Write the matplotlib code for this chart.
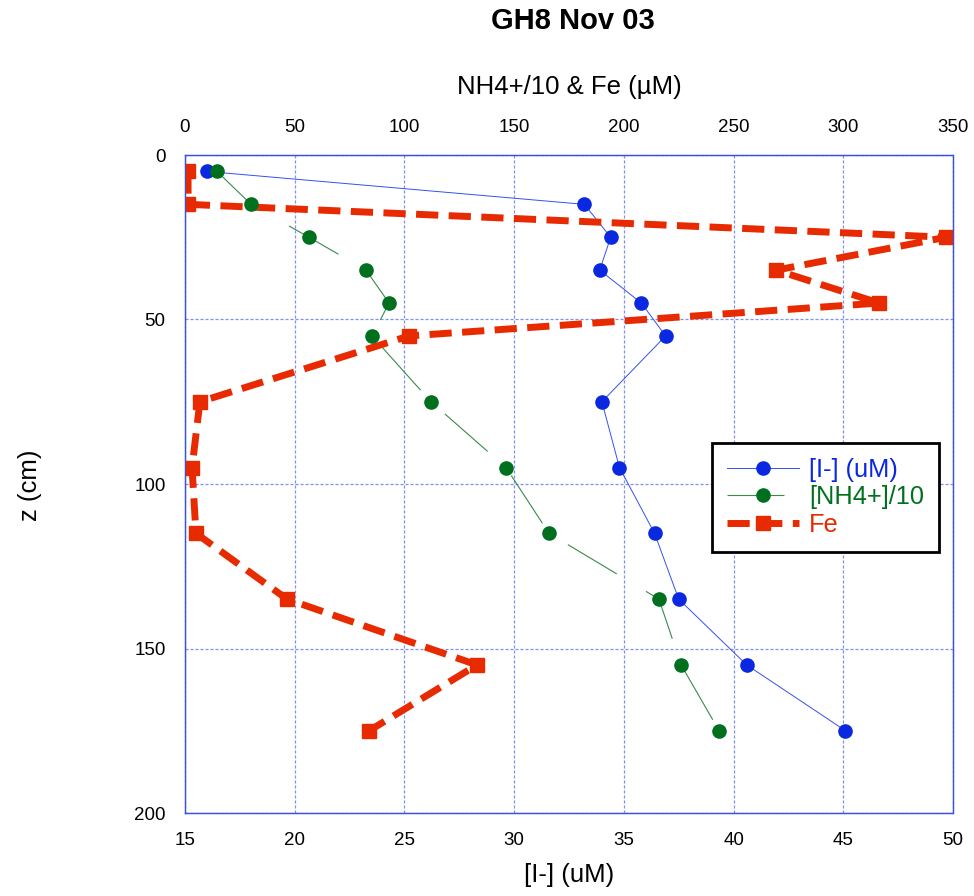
import numpy as np
import matplotlib
matplotlib.use('Agg')
import matplotlib.pyplot as plt

plt.rcParams['font.family'] = ['Liberation Sans', 'DejaVu Sans']
plt.rcParams['lines.scale_dashes'] = False

# core depths (cm)
depth = [5, 15, 25, 35, 45, 55, 75, 95, 115, 135, 155, 175]
# iodide, bottom axis (uM)
iodide = [16.0, 33.2, 34.4, 33.9, 35.8, 36.9, 34.0, 34.8, 36.4, 37.5, 40.6, 45.1]
# ammonium / 10 and iron, top axis (uM)
nh4_10 = [14.6, 30.1, 56.5, 82.5, 93.0, 85.2, 112.1, 146.3, 165.9, 216.0, 226.1, 243.4]
fe = [1.4, 1.4, 346.9, 269.4, 316.3, 102.1, 6.8, 3.2, 5.0, 46.5, 133.1, 83.9]

W, H = 974, 896
fig = plt.figure(figsize=(W / 100, H / 100), dpi=100)
ax = fig.add_axes([185 / W, 1 - 813 / H, (953 - 185) / W, (813 - 155) / H])
ax2 = ax.twiny()

grid_col = '#8090ee'
blue = '#0a28e0'
green = '#00701e'
red = '#e82a00'

ax.set_xlim(15, 50)
ax.set_ylim(200, 0)
ax2.set_xlim(0, 350)
ax.set_xticks(np.arange(15, 51, 5))
ax.set_yticks(np.arange(0, 201, 50))
ax2.set_xticks(np.arange(0, 351, 50))
ax.grid(True, color=grid_col, linestyle=(0, (2.2, 1.4)), linewidth=0.9)
ax.set_axisbelow(True)

for a in (ax, ax2):
    a.tick_params(length=0, labelsize=13.5, pad=14)
    for s in a.spines.values():
        s.set_color('#3a50e0')
        s.set_linewidth(0.9)
        s.set_linestyle((0, (2.2, 1.0)))

l1, = ax.plot(iodide, depth, '-o', color='#3550ee', mfc=blue, mec=blue,
              lw=0.7, ms=9.5, label='[I-] (uM)')
l3, = ax2.plot(fe, depth, color=red, marker='s', ms=10, lw=5,
               dashes=(16, 7.5), label='Fe', solid_capstyle='butt')
l2, = ax2.plot(nh4_10, depth, color='#3a8a4a', marker='o', mfc=green, mec=green,
               lw=0.8, ms=9.5, dashes=(41, 24.5), label='[NH4+]/10')

ax.set_xlabel('[I-] (uM)', fontsize=18.5, labelpad=10)
ax2.set_xlabel('NH4+/10 & Fe (µM)', fontsize=18.5, labelpad=18)
fig.text(30 / W, 1 - 485 / H, 'z (cm)', fontsize=18.5, rotation=90,
         ha='center', va='center')
fig.text(573 / W, 1 - 21 / H, 'GH8 Nov 03', fontsize=21, fontweight='bold',
         ha='center', va='center')

leg = fig.legend([l1, l2, l3], ['[I-] (uM)', '[NH4+]/10', 'Fe'],
                 loc='upper left', bbox_to_anchor=(712 / W, 1 - 443 / H),
                 fontsize=18.3, labelcolor='linecolor', handlelength=2.85,
                 handletextpad=0.4, labelspacing=0.14, borderpad=0.58,
                 borderaxespad=0, fancybox=False, framealpha=1)
leg.get_frame().set_edgecolor('black')
leg.get_frame().set_linewidth(2)
for t, c in zip(leg.get_texts(), [blue, green, red]):
    t.set_color(c)

fig.savefig('out.png', dpi=100)
